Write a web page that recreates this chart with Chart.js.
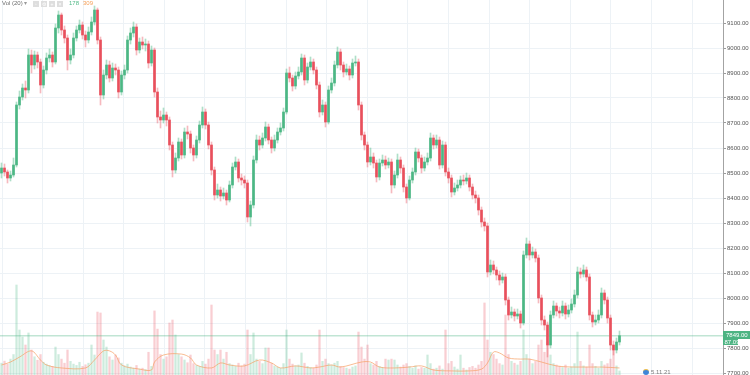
<!DOCTYPE html>
<html>
<head>
<meta charset="utf-8">
<title>BTC candles</title>
<script src="https://cdn.jsdelivr.net/npm/chart.js@4.4.0/dist/chart.umd.min.js"></script>
<style>
  html, body { margin: 0; padding: 0; background: #fff; }
  #wrap { position: relative; width: 750px; height: 375px; overflow: hidden; font-family: "Liberation Sans", Arial, sans-serif; }
  #priceChart { position: absolute; left: 0; top: 0; }
  .txt { position: absolute; font-size: 6px; line-height: 7px; white-space: nowrap; }
  .btn { position: absolute; top: 1px; width: 6px; height: 6px; background: #dedede; color: #fff; font-size: 5px; line-height: 6px; text-align: center; }
  .icon { position: absolute; left: 643px; top: 369px; width: 6px; height: 6px; border-radius: 50%; background: #3f86d8; border-top: 1px solid #f2c14b; box-sizing: border-box; }
</style>
</head>
<body>
<div id="wrap">
  <canvas id="priceChart" width="750" height="375"></canvas>
  <span class="txt" style="left:2px;top:0;color:#6d6d6d">Vol (20)</span>
  <span class="txt" style="left:24px;top:0;color:#9a9a9a">▾</span>
  <span class="btn" style="left:33px">◦</span>
  <span class="btn" style="left:41px">⚙</span>
  <span class="btn" style="left:49px">+</span>
  <span class="btn" style="left:57px">×</span>
  <span class="txt" style="left:69px;top:0;color:#53b987">178</span>
  <span class="txt" style="left:83px;top:0;color:#f5a15a">309</span>
  <span class="icon"></span>
  <span class="txt" style="left:651px;top:369px;color:#7a7a7a">5.11.21</span>
</div>
<script>
// candles (one candle every ~3px)
const opens = [8500,8520,8504,8480,8492,8532,8772,8804,8840,8832,
  8972,8932,8972,8944,8852,8912,8960,8972,8944,9080,
  9132,9072,9040,8952,8972,9040,9072,9092,9052,9032,
  9064,9104,9152,9032,8812,8892,8932,8880,8920,8912,
  8824,8892,8912,9032,9060,9084,8992,9024,9012,9016,
  8940,8992,8824,8724,8712,8732,8712,8612,8512,8560,
  8624,8572,8664,8656,8600,8572,8632,8692,8744,8692,
  8612,8512,8412,8432,8408,8420,8392,8452,8524,8544,
  8480,8472,8460,8324,8372,8552,8632,8612,8640,8684,
  8632,8600,8632,8664,8680,8744,8900,8880,8848,8888,
  8904,8960,8872,8924,8944,8912,8852,8744,8772,8704,
  8832,8860,8932,8984,8932,8904,8916,8892,8940,8944,
  8772,8652,8612,8544,8564,8540,8484,8540,8552,8532,
  8544,8452,8492,8552,8520,8444,8400,8472,8504,8584,
  8560,8520,8544,8560,8640,8612,8632,8532,8612,8504,
  8480,8424,8440,8452,8472,8468,8480,8444,8412,8400,
  8352,8304,8288,8104,8132,8112,8092,8072,8084,7992,
  7932,7944,7928,7936,7900,8172,8216,8172,8184,8160,
  8000,7912,7892,7812,7932,7968,7948,7940,7968,7936,
  7952,7976,8012,8104,8096,8112,8084,7932,7904,7912,
  7932,8020,7992,7920,7812,7792,7824];

const closes = [8520,8504,8480,8492,8532,8772,8804,8840,8832,8972,
  8932,8972,8944,8852,8912,8960,8972,8944,9080,9132,
  9072,9040,8952,8972,9040,9072,9092,9052,9032,9064,
  9104,9152,9032,8812,8892,8932,8880,8920,8912,8824,
  8892,8912,9032,9060,9084,8992,9024,9012,9016,8940,
  8992,8824,8724,8712,8732,8712,8612,8512,8560,8624,
  8572,8664,8656,8600,8572,8632,8692,8744,8692,8612,
  8512,8412,8432,8408,8420,8392,8452,8524,8544,8480,
  8472,8460,8324,8372,8552,8632,8612,8640,8684,8632,
  8600,8632,8664,8680,8744,8900,8880,8848,8888,8904,
  8960,8872,8924,8944,8912,8852,8744,8772,8704,8832,
  8860,8932,8984,8932,8904,8916,8892,8940,8944,8772,
  8652,8612,8544,8564,8540,8484,8540,8552,8532,8544,
  8452,8492,8552,8520,8444,8400,8472,8504,8584,8560,
  8520,8544,8560,8640,8612,8632,8532,8612,8504,8480,
  8424,8440,8452,8472,8468,8480,8444,8412,8400,8352,
  8304,8288,8104,8132,8112,8092,8072,8084,7992,7932,
  7944,7928,7936,7900,8172,8216,8172,8184,8160,8000,
  7912,7892,7812,7932,7968,7948,7940,7968,7936,7952,
  7976,8012,8104,8096,8112,8084,7932,7904,7912,7932,
  8020,7992,7920,7812,7792,7824,7849];

const highs = [8540,8536,8512,8508,8560,8784,8828,8856,8868,8996,
  8992,8988,8984,8956,8928,8980,8996,8984,9096,9148,
  9140,9088,9052,8996,9060,9088,9112,9104,9068,9084,
  9124,9168,9160,9044,8912,8952,8948,8940,8936,8924,
  8908,8932,9048,9080,9104,9096,9040,9044,9036,9028,
  9008,9000,8840,8748,8760,8744,8724,8624,8580,8640,
  8636,8680,8688,8668,8612,8648,8708,8764,8756,8704,
  8624,8524,8456,8444,8440,8432,8468,8540,8564,8556,
  8496,8488,8472,8388,8568,8652,8648,8660,8704,8696,
  8644,8652,8680,8700,8760,8916,8924,8892,8904,8924,
  8976,8972,8940,8964,8956,8924,8864,8792,8784,8848,
  8880,8948,9004,8996,8944,8936,8928,8956,8968,8956,
  8784,8664,8624,8600,8580,8552,8556,8572,8568,8560,
  8556,8508,8576,8564,8532,8456,8488,8520,8600,8596,
  8572,8564,8580,8660,8652,8652,8644,8628,8624,8520,
  8492,8460,8472,8488,8492,8500,8492,8456,8428,8412,
  8364,8320,8300,8152,8148,8124,8108,8100,8096,8004,
  7964,7956,7956,7948,8188,8240,8228,8204,8196,8172,
  8012,7928,7904,7948,7988,7980,7964,7988,7980,7972,
  7996,8032,8124,8120,8132,8124,8096,7944,7932,7952,
  8040,8032,8004,7932,7828,7840,7868];

const lows = [8480,8488,8460,8468,8484,8524,8756,8792,8800,8820,
  8900,8916,8920,8820,8840,8896,8944,8924,8936,9060,
  9052,9020,8912,8936,8960,9028,9060,9036,9004,9020,
  9052,9092,9016,8772,8796,8876,8864,8868,8892,8800,
  8812,8876,8900,9016,9044,8972,8980,8996,8988,8920,
  8928,8804,8700,8680,8700,8688,8592,8484,8500,8548,
  8556,8560,8636,8580,8548,8560,8620,8680,8676,8596,
  8492,8392,8400,8388,8396,8372,8384,8440,8512,8464,
  8452,8440,8304,8288,8360,8540,8592,8600,8628,8616,
  8580,8588,8620,8652,8668,8736,8864,8828,8836,8876,
  8892,8852,8860,8912,8896,8836,8724,8732,8684,8696,
  8820,8848,8920,8912,8884,8892,8872,8880,8928,8752,
  8632,8592,8524,8532,8520,8464,8472,8528,8516,8520,
  8420,8440,8480,8500,8424,8380,8392,8460,8492,8544,
  8500,8508,8532,8548,8596,8600,8516,8520,8488,8460,
  8404,8412,8428,8440,8452,8456,8428,8396,8380,8332,
  8284,8268,8084,8092,8096,8072,8052,8060,7972,7912,
  7920,7908,7916,7880,7892,8160,8152,8160,8144,7980,
  7892,7872,7764,7800,7920,7928,7920,7928,7916,7924,
  7940,7964,8000,8080,8084,8068,7912,7884,7892,7900,
  7920,7976,7900,7792,7772,7780,7812];

const volumes = [520,610,480,700,900,3960,1980,1670,1320,1850,
  1100,800,650,900,560,480,420,380,1230,900,
  700,520,1100,600,480,420,560,380,450,520,
  1320,880,2770,2730,1540,1230,800,660,880,750,
  520,400,480,350,300,420,260,300,240,1000,
  380,2820,2020,900,700,800,2290,2420,1760,900,
  800,660,540,880,500,420,380,600,480,700,
  3080,1100,900,1100,700,1000,500,440,380,520,
  400,480,1980,900,1850,700,600,500,1190,1190,
  520,400,350,300,500,1980,700,480,400,440,
  970,520,380,330,300,440,1980,600,700,500,
  440,520,600,380,330,300,260,350,400,1890,
  1230,700,1320,500,440,600,380,330,700,660,
  700,660,440,350,440,500,380,300,400,260,
  330,300,880,500,260,300,400,260,1980,500,
  600,350,260,880,300,220,330,380,300,440,
  600,3170,1540,1000,900,700,500,440,2640,900,
  600,520,440,600,1980,900,700,500,600,1320,
  1540,1000,1450,880,500,440,380,330,440,300,
  350,500,1890,600,400,350,1320,500,380,300,
  600,440,500,700,1100,400,178];

// Vol (20) moving average, read at a few candles
const maIdx = [0,3,6,10,13,15,20,28,31,34,36,38,40,46,50,51,54,60,63,65,70,73,76,81,86,
  90,93,98,103,106,110,113,120,123,126,131,136,140,144,150,156,160,162,164,166,169,173,176,180,185,191,200,206];
const maVals = [440,570,790,1060,660,440,310,310,660,1060,1060,880,440,260,220,570,880,920,750,440,310,530,440,400,660,
  530,310,400,310,350,440,350,570,570,350,310,350,400,220,180,180,260,530,1010,970,750,700,700,570,400,350,350,309];

// price axis labels (9200 sits just above the top edge, cut off)
const priceTicks = [7700,7800,7900,8000,8100,8200,8300,8400,8500,8600,8700,8800,8900,9000,9100,9200];

const lastPrice = 7849;
const lastTagText = '7849.00';
const subTagText = '87.09';

const upColor = '#4cb784';
const downColor = '#e8505c';
const gridColor = '#edf2f6';
const fontFamily = '"Liberation Sans", Arial, sans-serif';

const isUp = i => closes[i] >= opens[i];

// vertical grid every ~40.6px
const gridStart = 0.17, gridStep = 13.53;

const tagPlugin = {
    id: 'lastTag',
    afterDraw(chart) {
        const { ctx, scales: { y } } = chart;
        const py = Math.round(y.getPixelForValue(lastPrice));
        ctx.save();
        ctx.fillStyle = '#4db483';
        ctx.fillRect(y.left, py - 5, 27, 8);
        ctx.fillRect(y.left, py + 3, 15, 6);
        ctx.fillStyle = '#ffffff';
        ctx.font = '6px ' + fontFamily;
        ctx.textBaseline = 'middle';
        ctx.fillText(lastTagText, y.left + 3, py - 1);
        ctx.fillText(subTagText, y.left + 1.5, py + 6);
        ctx.restore();
    }
};

new Chart(document.getElementById('priceChart'), {
    type: 'bar',
    data: {
        datasets: [{
            label: 'body',
            data: closes.map((c, i) => ({ x: i, y: [opens[i], c] })),
            backgroundColor: c => isUp(c.dataIndex) ? upColor : downColor,
            barThickness: 2,
            minBarLength: 1,
            grouped: false,
            order: 1,
            yAxisID: 'y'
        }, {
            label: 'wick',
            data: closes.map((c, i) => ({ x: i, y: [lows[i], highs[i]] })),
            backgroundColor: c => isUp(c.dataIndex) ? 'rgba(76,183,132,0.45)' : 'rgba(232,80,92,0.4)',
            barThickness: 1,
            grouped: false,
            order: 2,
            yAxisID: 'y'
        }, {
            type: 'line',
            label: 'last',
            data: [{ x: -0.5, y: lastPrice }, { x: 240.5, y: lastPrice }],
            borderColor: 'rgba(77,180,131,0.35)',
            borderWidth: 1.5,
            pointRadius: 0,
            order: 3,
            yAxisID: 'y'
        }, {
            type: 'line',
            label: 'vol ma',
            data: maIdx.map((x, k) => ({ x: x, y: maVals[k] })),
            borderColor: 'rgba(246,160,100,0.7)',
            borderWidth: 1,
            pointRadius: 0,
            tension: 0.35,
            order: 4,
            yAxisID: 'yVol'
        }, {
            label: 'vol',
            data: volumes.map((v, i) => ({ x: i, y: v })),
            backgroundColor: c => isUp(c.dataIndex) ? 'rgba(76,183,132,0.28)' : 'rgba(232,80,92,0.28)',
            barThickness: 1.6,
            grouped: false,
            order: 5,
            yAxisID: 'yVol'
        }]
    },
    options: {
        responsive: false,
        devicePixelRatio: 1,
        animation: false,
        layout: { padding: 0 },
        plugins: {
            legend: { display: false },
            tooltip: { enabled: false }
        },
        scales: {
            x: {
                type: 'linear',
                min: -0.5,
                max: 240.5,
                offset: false,
                grid: { color: gridColor, drawTicks: false, offset: false },
                border: { display: false },
                ticks: { display: false },
                afterBuildTicks: s => {
                    const t = [];
                    for (let v = gridStart; v < 240; v += gridStep) t.push({ value: v });
                    s.ticks = t;
                },
                afterFit: s => { s.height = 0; s.paddingLeft = 0; s.paddingRight = 0; }
            },
            y: {
                position: 'right',
                min: 7692,
                max: 9192,
                grid: { color: gridColor, tickLength: 3, tickColor: '#9a9a9a' },
                border: { color: '#a3a3a3', width: 1 },
                afterBuildTicks: s => { s.ticks = priceTicks.map(v => ({ value: v })); },
                ticks: {
                    padding: 1,
                    color: '#555',
                    font: { size: 6, family: fontFamily },
                    callback: v => v.toFixed(2)
                },
                afterFit: s => { s.width = 27; s.paddingTop = 0; s.paddingBottom = 0; }
            },
            yVol: {
                display: false,
                position: 'left',
                min: 0,
                max: 16500
            }
        }
    },
    plugins: [tagPlugin]
});
</script>
</body>
</html>
